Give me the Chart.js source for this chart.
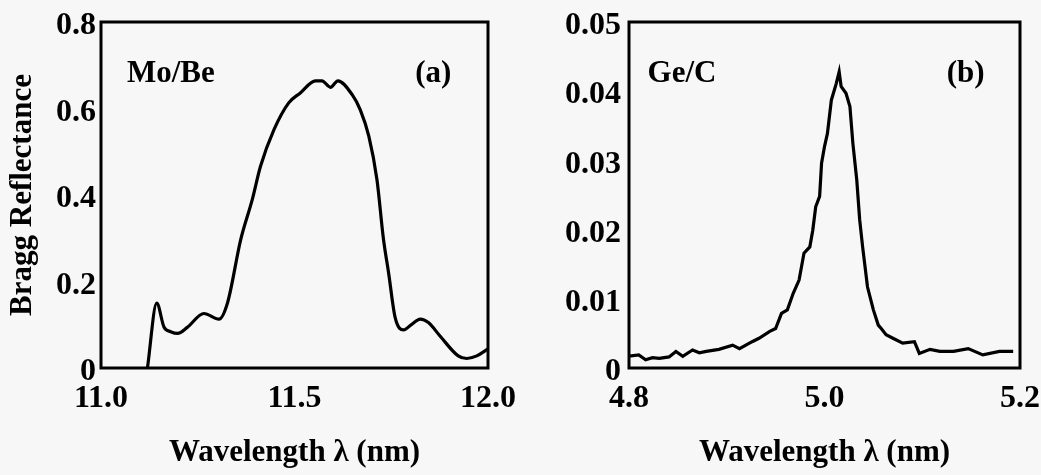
<!DOCTYPE html>
<html><head><meta charset="utf-8">
<script src="https://cdn.jsdelivr.net/npm/chart.js@4"></script>
<style>
html,body{margin:0;padding:0;background:#f7f7f7;}
#wrap{position:relative;width:1041px;height:475px;background:#f7f7f7;}
.c{position:absolute;top:0;}
</style></head><body>
<div id="wrap">
<canvas id="a" class="c" style="left:0" width="520" height="475"></canvas>
<canvas id="b" class="c" style="left:520px" width="521" height="475"></canvas>
</div>
<script>
// Panel (a) Mo/Be
const moBeWavelength = [11.12, 11.144, 11.163, 11.18, 11.198, 11.223, 11.266, 11.305, 11.327, 11.361, 11.391, 11.412, 11.447, 11.485, 11.515, 11.554, 11.571, 11.593, 11.612, 11.649, 11.670, 11.692, 11.713, 11.730, 11.743, 11.760, 11.782, 11.803, 11.825, 11.846, 11.876, 11.923, 11.945, 11.971, 12.0];
const moBeReflectance = [0, 0.150, 0.094, 0.084, 0.080, 0.094, 0.126, 0.113, 0.151, 0.297, 0.390, 0.466, 0.551, 0.613, 0.636, 0.664, 0.664, 0.649, 0.664, 0.632, 0.597, 0.536, 0.436, 0.297, 0.221, 0.117, 0.088, 0.101, 0.113, 0.105, 0.074, 0.028, 0.022, 0.028, 0.044];
const xTicksA = [11.0, 11.5, 12.0];
const xLabelsA = ['11.0', '11.5', '12.0'];
const yTicksA = [0, 0.2, 0.4, 0.6, 0.8];
const yLabelsA = ['0', '0.2', '0.4', '0.6', '0.8'];

// Panel (b) Ge/C
const geCWavelength = [4.8, 4.810, 4.817, 4.824, 4.831, 4.841, 4.848, 4.855, 4.865, 4.872, 4.879, 4.892, 4.906, 4.913, 4.926, 4.933, 4.944, 4.950, 4.956, 4.962, 4.968, 4.974, 4.979, 4.985, 4.988, 4.991, 4.995, 4.997, 5.000, 5.003, 5.007, 5.012, 5.015, 5.017, 5.022, 5.026, 5.029, 5.033, 5.036, 5.039, 5.044, 5.050, 5.055, 5.058, 5.063, 5.070, 5.080, 5.092, 5.097, 5.108, 5.118, 5.132, 5.147, 5.162, 5.179, 5.193];
const geCReflectance = [0.0017, 0.0019, 0.0012, 0.0015, 0.0014, 0.0016, 0.0024, 0.0017, 0.0026, 0.0022, 0.0024, 0.0027, 0.0033, 0.0028, 0.0038, 0.0043, 0.0053, 0.0057, 0.0079, 0.0084, 0.0108, 0.0127, 0.0166, 0.0175, 0.0199, 0.0233, 0.0248, 0.0296, 0.0320, 0.0339, 0.0387, 0.0411, 0.0428, 0.0407, 0.0397, 0.0378, 0.0325, 0.0272, 0.0214, 0.0175, 0.0117, 0.0084, 0.0062, 0.0057, 0.0048, 0.0043, 0.0036, 0.0038, 0.0021, 0.0027, 0.0024, 0.0024, 0.0028, 0.0019, 0.0024, 0.0024];
const xTicksB = [4.8, 5.0, 5.2];
const xLabelsB = ['4.8', '5.0', '5.2'];
const yTicksB = [0, 0.01, 0.02, 0.03, 0.04, 0.05];
const yLabelsB = ['0', '0.01', '0.02', '0.03', '0.04', '0.05'];

const FONT = 'Liberation Serif, Times New Roman, serif';

const framePlugin = {
  id: 'frame',
  afterDatasetsDraw(chart, args, opts) {
    const {ctx, chartArea: a, scales} = chart;
    ctx.save();
    ctx.strokeStyle = '#000';
    ctx.lineWidth = 3;
    ctx.strokeRect(a.left, a.top, a.width, a.height);
    ctx.fillStyle = '#000';
    ctx.font = 'bold 31px ' + FONT;
    ctx.textBaseline = 'alphabetic';
    ctx.textAlign = 'left';
    (opts.labels || []).forEach(l => {
      ctx.fillText(l.text, scales.x.getPixelForValue(l.x), scales.y.getPixelForValue(l.y));
    });
    ctx.restore();
  }
};

function makePanel(id, cfg) {
  const tickFont = {family: FONT, weight: 'bold', size: 32};
  const titleFont = {family: FONT, weight: 'bold', size: 31};
  const hiddenGrid = len => ({display: true, drawOnChartArea: false, drawTicks: true, tickLength: len, color: 'rgba(0,0,0,0)'});
  new Chart(document.getElementById(id), {
    type: 'line',
    data: {
      datasets: [{
        data: cfg.xs.map((x, i) => ({x: x, y: cfg.ys[i]})),
        borderColor: '#000',
        borderWidth: 3.2,
        pointRadius: 0,
        fill: false,
        cubicInterpolationMode: cfg.smooth ? 'monotone' : 'default',
        tension: 0
      }]
    },
    options: {
      responsive: false,
      animation: false,
      layout: {padding: {top: 22, right: cfg.padRight, left: 0, bottom: 0}},
      plugins: {legend: {display: false}, tooltip: {enabled: false}, frame: {labels: cfg.labels}},
      scales: {
        x: {
          type: 'linear', min: cfg.xTicks[0], max: cfg.xTicks[cfg.xTicks.length - 1],
          afterBuildTicks: s => { s.ticks = cfg.xTicks.map(v => ({value: v})); },
          afterFit: s => { s.height = 107; },
          grid: hiddenGrid(12),
          border: {display: false},
          ticks: {padding: 0, color: '#000', font: tickFont, maxRotation: 0, autoSkip: false,
            callback: (v, i) => cfg.xLabels[i]},
          title: {display: true, text: 'Wavelength λ (nm)', color: '#000', font: titleFont, padding: {top: 0, bottom: 3}}
        },
        y: {
          type: 'linear', min: cfg.yTicks[0], max: cfg.yTicks[cfg.yTicks.length - 1],
          afterBuildTicks: s => { s.ticks = cfg.yTicks.map(v => ({value: v})); },
          afterFit: s => { s.width = cfg.yWidth; },
          grid: hiddenGrid(cfg.yPad),
          border: {display: false},
          ticks: {padding: 0, labelOffset: 4, color: '#000', font: tickFont, autoSkip: false,
            callback: (v, i) => cfg.yLabels[i]},
          title: {display: !!cfg.yTitle, text: cfg.yTitle || '', color: '#000', font: titleFont, padding: {top: 4, bottom: 0}}
        }
      }
    },
    plugins: [framePlugin]
  });
}

makePanel('a', {
  xs: moBeWavelength, ys: moBeReflectance, smooth: true,
  xTicks: xTicksA, xLabels: xLabelsA, yTicks: yTicksA, yLabels: yLabelsA,
  yWidth: 101, yPad: 5, padRight: 32, yTitle: 'Bragg Reflectance',
  labels: [{text: 'Mo/Be', x: 11.067, y: 0.661}, {text: '(a)', x: 11.812, y: 0.661}]
});
makePanel('b', {
  xs: geCWavelength, ys: geCReflectance, smooth: false,
  xTicks: xTicksB, xLabels: xLabelsB, yTicks: yTicksB, yLabels: yLabelsB,
  yWidth: 109, yPad: 8, padRight: 21, yTitle: null,
  labels: [{text: 'Ge/C', x: 4.819, y: 0.0413}, {text: '(b)', x: 5.125, y: 0.0413}]
});
</script>
</body></html>
